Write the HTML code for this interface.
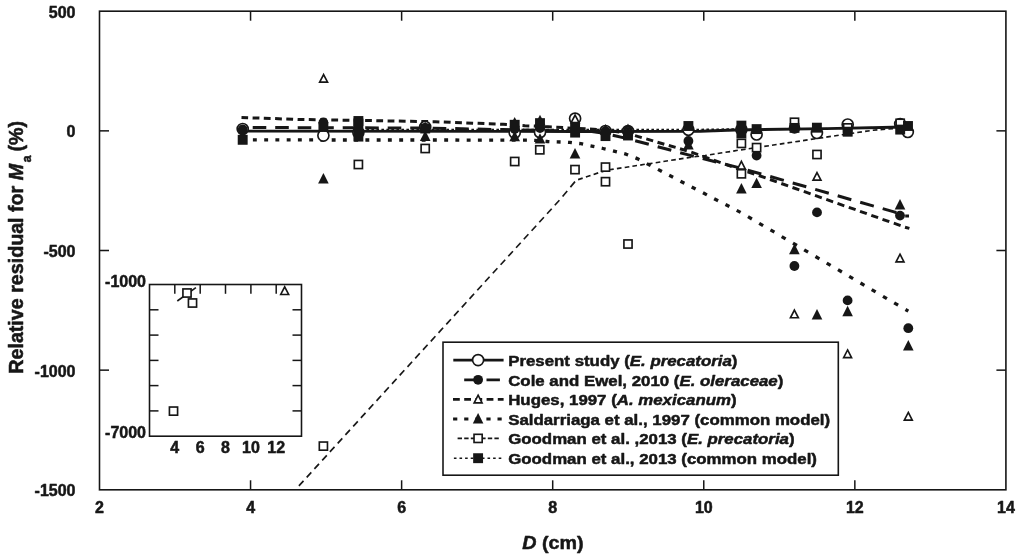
<!DOCTYPE html>
<html><head><meta charset="utf-8"><title>Relative residual plot</title>
<style>
html,body{margin:0;padding:0;background:#fff;}
body{width:1024px;height:558px;overflow:hidden;}
svg{display:block;}
text{font-family:"Liberation Sans",Arial,Helvetica,sans-serif;font-weight:bold;fill:#161616;stroke:#161616;stroke-width:0.5px;stroke-linejoin:round;}
.t16{font-size:16px;}
.t15{font-size:15.2px;}
.t19{font-size:18.6px;}
</style></head><body>
<svg width="1024" height="558" viewBox="0 0 1024 558">
<defs><filter id="soft" x="0" y="0" width="1024" height="558" filterUnits="userSpaceOnUse"><feGaussianBlur stdDeviation="0.5"/></filter></defs>
<rect x="0" y="0" width="1024" height="558" fill="#fff"/>
<g filter="url(#soft)">
<rect x="99.5" y="11.2" width="906.4" height="478.6" fill="none" stroke="#161616" stroke-width="1.6"/>
<line x1="250.56666666666666" y1="489.8" x2="250.56666666666666" y2="480.3" stroke="#161616" stroke-width="1.5"/>
<line x1="250.56666666666666" y1="11.2" x2="250.56666666666666" y2="20.7" stroke="#161616" stroke-width="1.5"/>
<line x1="401.6333333333333" y1="489.8" x2="401.6333333333333" y2="480.3" stroke="#161616" stroke-width="1.5"/>
<line x1="401.6333333333333" y1="11.2" x2="401.6333333333333" y2="20.7" stroke="#161616" stroke-width="1.5"/>
<line x1="552.7" y1="489.8" x2="552.7" y2="480.3" stroke="#161616" stroke-width="1.5"/>
<line x1="552.7" y1="11.2" x2="552.7" y2="20.7" stroke="#161616" stroke-width="1.5"/>
<line x1="703.7666666666667" y1="489.8" x2="703.7666666666667" y2="480.3" stroke="#161616" stroke-width="1.5"/>
<line x1="703.7666666666667" y1="11.2" x2="703.7666666666667" y2="20.7" stroke="#161616" stroke-width="1.5"/>
<line x1="854.8333333333334" y1="489.8" x2="854.8333333333334" y2="480.3" stroke="#161616" stroke-width="1.5"/>
<line x1="854.8333333333334" y1="11.2" x2="854.8333333333334" y2="20.7" stroke="#161616" stroke-width="1.5"/>
<line x1="99.5" y1="130.85" x2="109.0" y2="130.85" stroke="#161616" stroke-width="1.5"/>
<line x1="1005.9" y1="130.85" x2="996.4" y2="130.85" stroke="#161616" stroke-width="1.5"/>
<line x1="99.5" y1="250.50" x2="109.0" y2="250.50" stroke="#161616" stroke-width="1.5"/>
<line x1="1005.9" y1="250.50" x2="996.4" y2="250.50" stroke="#161616" stroke-width="1.5"/>
<line x1="99.5" y1="370.15" x2="109.0" y2="370.15" stroke="#161616" stroke-width="1.5"/>
<line x1="1005.9" y1="370.15" x2="996.4" y2="370.15" stroke="#161616" stroke-width="1.5"/>
<text x="99.5" y="513.4" text-anchor="middle" class="t16">2</text>
<text x="250.6" y="513.4" text-anchor="middle" class="t16">4</text>
<text x="401.6" y="513.4" text-anchor="middle" class="t16">6</text>
<text x="552.7" y="513.4" text-anchor="middle" class="t16">8</text>
<text x="703.8" y="513.4" text-anchor="middle" class="t16">10</text>
<text x="854.8" y="513.4" text-anchor="middle" class="t16">12</text>
<text x="1005.9" y="513.4" text-anchor="middle" class="t16">14</text>
<text x="75.5" y="17.6" text-anchor="end" class="t16">500</text>
<text x="75.5" y="137.2" text-anchor="end" class="t16">0</text>
<text x="75.5" y="256.9" text-anchor="end" class="t16">-500</text>
<text x="75.5" y="376.5" text-anchor="end" class="t16">-1000</text>
<text x="75.5" y="496.2" text-anchor="end" class="t16">-1500</text>
<text transform="translate(553,548.5) scale(1.06,1)" text-anchor="middle" class="t19"><tspan font-style="italic">D</tspan> (cm)</text>
<text transform="translate(22.9,247.3) rotate(-90) scale(1.058,1.13)" text-anchor="middle" class="t19">Relative residual for <tspan font-style="italic">M</tspan><tspan font-size="11.5" dy="7.2" dx="1.6">a</tspan><tspan dy="-7.2" dx="-1.4"> (%)</tspan></text>
<path d="M298.9,485.9 L303.5,480.9 M306.7,477.4 L311.3,472.4 M314.4,468.9 L319.0,463.9 M322.2,460.4 L326.8,455.4 M329.9,451.9 L334.5,446.9 M337.7,443.4 L342.3,438.4 M345.4,434.9 L350.0,429.9 M353.2,426.4 L357.8,421.4 M360.9,417.9 L365.5,412.9 M368.7,409.4 L373.3,404.3 M376.5,400.9 L381.1,395.8 M384.2,392.4 L388.8,387.3 M392.0,383.9 L396.6,378.8 M399.7,375.4 L404.3,370.3 M407.5,366.9 L412.1,361.8 M415.2,358.4 L419.8,353.3 M423.0,349.9 L427.6,344.8 M430.8,341.4 L435.4,336.3 M438.5,332.9 L443.1,327.8 M446.3,324.4 L450.9,319.3 M454.0,315.9 L458.6,310.8 M461.8,307.4 L466.4,302.3 M469.5,298.9 L474.1,293.8 M477.3,290.3 L481.9,285.3 M485.0,281.8 L489.6,276.8 M492.8,273.3 L497.4,268.3 M500.6,264.8 L505.2,259.8 M508.3,256.3 L512.9,251.3 M516.1,247.8 L520.7,242.8 M523.8,239.3 L528.4,234.3 M531.6,230.8 L536.2,225.8 M539.3,222.3 L543.9,217.3 M547.1,213.8 L551.7,208.8 M554.8,205.3 L559.4,200.3 M562.6,196.5 L567.2,190.9 M570.4,187.1 L575.0,181.6 M578.1,179.6 L582.7,178.1 M585.9,177.0 L590.5,175.5 M593.6,174.5 L598.2,172.9 M601.4,171.9 L606.0,170.4 M609.1,169.8 L613.7,169.1 M616.9,168.6 L621.5,167.9 M624.7,167.5 L629.3,166.7 M632.4,166.3 L637.0,165.5 M640.2,165.1 L644.8,164.3 M647.9,163.9 L652.5,163.2 M655.7,162.7 L660.3,162.0 M663.4,161.5 L668.0,160.8 M671.2,160.3 L675.8,159.6 M678.9,159.1 L683.5,158.4 M686.7,157.9 L688.5,157.6 L691.3,157.2 M694.5,156.8 L699.1,156.3 M702.2,155.9 L705.0,155.5 L706.8,155.2 M710.0,154.7 L714.6,154.0 M717.7,153.5 L722.3,152.8 M725.5,152.3 L730.1,151.6 M733.2,151.1 L737.8,150.3 M741.0,149.9 L745.6,149.2 M748.7,148.7 L753.3,148.0 M756.5,147.5 L761.1,146.9 M764.3,146.4 L768.9,145.7 M772.0,145.2 L776.6,144.5 M779.8,144.1 L784.4,143.4 M787.5,142.9 L792.1,142.2 M795.3,141.7 L799.9,141.1 M803.0,140.6 L807.6,139.9 M810.8,139.4 L815.4,138.7 M818.6,138.3 L823.2,137.6 M826.3,137.1 L827.7,136.9 L830.9,136.4 M834.1,136.0 L838.7,135.3 M841.8,134.8 L846.4,134.1 M849.6,133.7 L854.2,133.0 M857.3,132.5 L861.9,131.9 M865.1,131.4 L869.7,130.7 M872.8,130.3 L877.4,129.9 M880.6,129.7 L885.2,129.3 M888.4,129.0 L893.0,128.6 M896.1,128.3 L900.7,127.9 M903.9,127.7 L908.3,127.3" fill="none" stroke="#161616" stroke-width="1.65" stroke-linejoin="round"/>
<path d="M362.0,129.6 L364.0,129.6 M366.4,129.6 L369.0,129.6 M371.4,129.6 L374.0,129.6 M376.4,129.6 L379.0,129.6 M381.4,129.6 L384.0,129.6 M386.4,129.6 L389.0,129.6 M391.4,129.6 L394.0,129.6 M396.4,129.6 L399.0,129.6 M401.4,129.6 L404.0,129.6 M406.4,129.6 L409.0,129.6 M411.4,129.6 L414.0,129.6 M416.4,129.6 L419.0,129.6 M421.4,129.6 L424.0,129.6 M426.4,129.6 L429.0,129.6 M431.4,129.6 L434.0,129.6 M436.4,129.6 L439.0,129.6 M441.4,129.6 L444.0,129.6 M446.4,129.6 L449.0,129.6 M451.4,129.6 L454.0,129.6 M456.4,129.6 L459.0,129.6 M461.4,129.6 L464.0,129.6 M466.4,129.6 L469.0,129.6 M471.4,129.6 L474.0,129.6 M476.4,129.6 L479.0,129.6 M481.4,129.6 L484.0,129.6 M486.4,129.6 L489.0,129.6 M491.4,129.6 L494.0,129.6 M496.4,129.6 L499.0,129.6 M501.4,129.6 L504.0,129.6 M506.4,129.6 L509.0,129.6 M511.4,129.6 L514.0,129.6 M516.4,129.6 L519.0,129.6 M521.4,129.6 L524.0,129.6 M526.4,129.6 L529.0,129.6 M531.4,129.6 L534.0,129.6 M536.4,129.6 L539.0,129.6 M541.4,129.6 L544.0,129.6 M546.4,129.6 L549.0,129.6 M551.4,129.6 L554.0,129.6 M556.4,129.6 L559.0,129.6 M561.4,129.6 L564.0,129.6 M566.4,129.6 L569.0,129.6 M571.4,129.6 L574.0,129.6 M576.4,129.6 L579.0,129.6 M581.4,129.6 L584.0,129.6 M586.4,129.6 L589.0,129.6 M591.4,129.6 L594.0,129.6 M596.4,129.6 L599.0,129.6 M601.4,129.6 L604.0,129.6 M606.4,129.6 L609.0,129.6 M611.4,129.6 L614.0,129.6 M616.4,129.6 L619.0,129.6 M621.4,129.6 L624.0,129.6 M626.4,129.6 L629.0,129.6 M631.4,129.6 L634.0,129.6 M636.4,129.6 L639.0,129.6 M641.4,129.6 L644.0,129.6 M646.4,129.5 L649.0,129.5 M651.4,129.5 L654.0,129.5 M656.4,129.5 L659.0,129.5 M661.4,129.5 L664.0,129.5 M666.4,129.5 L669.0,129.5 M671.4,129.5 L674.0,129.5 M676.4,129.5 L679.0,129.5 M681.4,129.5 L684.0,129.5 M686.4,129.5 L689.0,129.5 M691.4,129.5 L694.0,129.5 M696.4,129.5 L699.0,129.5 M701.4,129.5 L704.0,129.4 M706.4,129.4 L709.0,129.4 M711.4,129.3 L714.0,129.3 M716.4,129.3 L719.0,129.2 M721.4,129.2 L724.0,129.1 M726.4,129.1 L729.0,129.1 M731.4,129.0 L734.0,129.0 M736.4,129.0 L739.0,128.9" fill="none" stroke="#161616" stroke-width="1.6" stroke-linejoin="round"/>
<path d="M241.7,139.9 L245.6,139.9 M252.9,139.9 L256.8,139.9 M264.2,139.9 L268.1,139.9 M275.4,139.9 L279.3,139.9 M286.7,139.9 L290.6,139.9 M297.9,139.9 L301.8,139.9 M309.2,139.9 L313.1,139.9 M320.4,140.0 L324.3,140.0 M331.7,140.0 L335.6,140.0 M342.9,140.0 L346.8,140.0 M354.2,140.0 L358.1,140.0 M365.4,140.0 L369.3,140.0 M376.7,140.0 L380.6,140.0 M387.9,140.0 L391.8,140.0 M399.2,140.0 L403.1,140.0 M410.4,140.0 L414.3,140.0 M421.7,140.0 L425.6,140.0 M432.9,140.0 L436.8,140.0 M444.2,140.0 L448.1,140.0 M455.4,140.0 L459.3,140.1 M466.7,140.1 L470.6,140.1 M477.9,140.1 L481.8,140.1 M489.2,140.1 L493.1,140.1 M500.4,140.1 L504.3,140.1 M511.7,140.1 L515.6,140.1 M523.0,140.1 L526.9,140.1 M534.2,140.4 L538.1,140.7 M545.5,141.3 L547.5,141.5 L549.4,141.6 M556.7,141.9 L560.6,142.0 M568.0,142.3 L569.4,142.4 L571.9,142.7 M579.2,143.5 L580.8,143.7 L583.1,144.2 M590.5,145.8 L594.4,146.6 M601.7,148.2 L603.0,148.5 L605.6,149.1 M613.0,150.9 L614.9,151.4 L616.9,151.9 M624.2,153.7 L626.1,154.2 L628.1,155.0 M635.5,157.9 L637.2,158.6 L639.4,159.7 M646.7,163.6 L650.6,165.6 M658.0,169.4 L661.9,171.5 M669.2,175.3 L673.1,177.3 M680.5,181.2 L684.4,183.2 M691.7,187.0 L695.6,189.0 M703.0,192.8 L706.9,194.9 M714.2,198.7 L718.1,200.7 M725.5,204.5 L729.4,206.5 M736.7,210.4 L740.6,212.4 M748.0,216.7 L751.9,219.0 M759.2,223.3 L763.1,225.6 M770.5,229.9 L774.4,232.2 M781.7,236.6 L785.6,238.9 M793.0,243.2 L796.9,245.5 M804.2,249.8 L808.1,252.1 M815.5,256.5 L819.4,258.8 M826.7,263.1 L830.6,265.4 M838.0,269.7 L841.9,272.0 M849.2,276.4 L853.1,278.7 M860.5,283.0 L864.4,285.3 M871.7,289.6 L875.6,291.9 M883.0,296.3 L886.9,298.6 M894.2,302.9 L898.1,305.2 M905.5,309.5 L908.3,311.2" fill="none" stroke="#161616" stroke-width="3.3" stroke-linejoin="round"/>
<path d="M241.5,117.5 L248.1,117.7 M252.6,117.9 L259.4,118.1 M263.8,118.3 L270.6,118.5 M275.1,118.6 L281.9,118.9 M286.3,119.0 L293.1,119.3 M297.6,119.4 L300.0,119.5 L304.4,119.6 M308.8,119.6 L315.6,119.7 M320.1,119.8 L326.9,119.9 M331.3,120.0 L338.1,120.1 M342.6,120.2 L349.4,120.3 M353.8,120.3 L360.6,120.4 M365.1,120.5 L371.9,120.6 M376.3,120.7 L383.1,120.8 M387.6,120.9 L394.4,121.0 M398.8,121.1 L405.6,121.2 M410.1,121.3 L416.9,121.4 M421.3,121.5 L428.1,121.6 M432.6,121.7 L435.0,121.7 L439.4,121.9 M443.8,122.0 L450.6,122.3 M455.1,122.5 L461.9,122.7 M466.3,122.9 L473.1,123.2 M477.6,123.3 L484.4,123.6 M488.8,123.8 L495.6,124.0 M500.1,124.2 L503.0,124.3 L506.9,124.5 M511.3,124.8 L518.1,125.3 M522.5,125.5 L525.0,125.7 L529.3,125.9 M533.8,126.1 L540.6,126.4 M545.0,126.7 L548.0,126.8 L551.8,127.0 M556.3,127.3 L563.1,127.6 M567.5,127.9 L574.3,128.3 M578.8,128.5 L585.6,128.8 M590.0,129.0 L596.8,129.4 M601.3,129.6 L605.5,129.8 L608.1,130.2 M612.5,131.0 L619.3,132.1 M623.8,132.8 L628.0,133.5 L630.6,134.3 M635.0,135.6 L641.8,137.6 M646.3,138.9 L653.1,140.9 M657.5,142.2 L664.3,144.2 M668.8,145.5 L675.6,147.4 M680.0,148.8 L686.8,150.7 M691.3,152.2 L698.1,154.6 M702.5,156.2 L709.3,158.6 M713.8,160.2 L720.6,162.6 M725.0,164.2 L731.8,166.6 M736.3,168.2 L741.4,170.0 L743.1,170.5 M747.5,171.9 L754.3,174.1 M758.8,175.5 L765.6,177.9 M770.0,179.5 L776.8,181.9 M781.3,183.5 L788.1,185.9 M792.5,187.5 L799.3,189.9 M803.8,191.4 L810.6,193.8 M815.0,195.4 L821.8,197.8 M826.3,199.4 L833.1,201.8 M837.5,203.4 L844.3,205.8 M848.8,207.3 L855.6,209.7 M860.0,211.3 L866.8,213.7 M871.3,215.3 L878.1,217.7 M882.5,219.3 L889.3,221.7 M893.8,223.2 L900.6,225.6 M905.0,227.2 L909.4,228.4" fill="none" stroke="#161616" stroke-width="3.0" stroke-linejoin="round"/>
<path d="M241.5,127.5 L243.8,127.5 M252.7,127.5 L266.3,127.6 M275.2,127.6 L288.8,127.6 M297.7,127.7 L311.3,127.7 M320.2,127.7 L333.8,127.8 M342.7,127.8 L356.3,127.8 M365.2,127.8 L378.8,127.9 M387.7,127.9 L401.3,127.9 M410.2,128.0 L423.8,128.0 M432.7,128.2 L446.3,128.4 M455.2,128.6 L468.8,128.9 M477.7,129.1 L491.3,129.4 M500.2,129.5 L503.0,129.6 L513.8,129.8 M522.7,130.0 L536.3,130.2 M545.2,130.4 L558.8,130.7 M567.7,130.9 L575.0,131.0 L581.3,131.1 M590.2,131.3 L603.8,133.3 M612.7,135.2 L626.3,138.4 M635.2,140.7 L648.8,144.3 M657.7,146.7 L671.3,150.3 M680.2,152.7 L688.4,154.9 L693.8,156.3 M702.7,158.5 L716.3,162.0 M725.2,164.2 L738.8,167.6 M747.7,170.1 L756.7,172.7 L761.3,174.0 M770.2,176.5 L783.8,180.4 M792.7,183.0 L806.3,186.8 M815.2,189.4 L828.8,193.3 M837.7,195.8 L851.3,199.7 M860.2,202.2 L873.8,206.1 M882.7,208.6 L894.9,212.1 L896.3,212.8 M905.2,216.0 L909.0,216.0" fill="none" stroke="#161616" stroke-width="3.0" stroke-linejoin="round"/>
<polyline points="241.5,131.1 575.0,131.5 700.0,131.3 735.0,130.0 826.0,128.6 893.4,127.3 908.3,126.9" fill="none" stroke="#161616" stroke-width="2.9" stroke-linecap="butt" stroke-linejoin="round"/>
<circle cx="242.7" cy="129.0" r="5.52" fill="#fff" stroke="#161616" stroke-width="1.65"/>
<circle cx="323.4" cy="135.6" r="5.52" fill="#fff" stroke="#161616" stroke-width="1.65"/>
<circle cx="358.4" cy="132.5" r="5.52" fill="#fff" stroke="#161616" stroke-width="1.65"/>
<circle cx="425.2" cy="126.9" r="5.52" fill="#fff" stroke="#161616" stroke-width="1.65"/>
<circle cx="514.7" cy="132.7" r="5.52" fill="#fff" stroke="#161616" stroke-width="1.65"/>
<circle cx="540.0" cy="132.2" r="5.52" fill="#fff" stroke="#161616" stroke-width="1.65"/>
<circle cx="575.1" cy="118.6" r="5.52" fill="#fff" stroke="#161616" stroke-width="1.65"/>
<circle cx="605.5" cy="131.0" r="5.52" fill="#fff" stroke="#161616" stroke-width="1.65"/>
<circle cx="628.0" cy="131.0" r="5.52" fill="#fff" stroke="#161616" stroke-width="1.65"/>
<circle cx="688.4" cy="129.8" r="5.52" fill="#fff" stroke="#161616" stroke-width="1.65"/>
<circle cx="741.4" cy="129.5" r="5.52" fill="#fff" stroke="#161616" stroke-width="1.65"/>
<circle cx="756.6" cy="134.5" r="5.52" fill="#fff" stroke="#161616" stroke-width="1.65"/>
<circle cx="816.9" cy="133.0" r="5.52" fill="#fff" stroke="#161616" stroke-width="1.65"/>
<circle cx="847.7" cy="124.5" r="5.52" fill="#fff" stroke="#161616" stroke-width="1.65"/>
<circle cx="900.2" cy="124.0" r="5.52" fill="#fff" stroke="#161616" stroke-width="1.65"/>
<circle cx="907.8" cy="132.0" r="5.52" fill="#fff" stroke="#161616" stroke-width="1.65"/>
<circle cx="242.7" cy="129.5" r="4.90" fill="#161616"/>
<circle cx="323.4" cy="122.5" r="4.90" fill="#161616"/>
<circle cx="358.4" cy="131.5" r="4.90" fill="#161616"/>
<circle cx="425.2" cy="128.0" r="4.90" fill="#161616"/>
<circle cx="514.7" cy="129.0" r="4.90" fill="#161616"/>
<circle cx="540.0" cy="128.0" r="4.90" fill="#161616"/>
<circle cx="575.1" cy="130.0" r="4.90" fill="#161616"/>
<circle cx="605.5" cy="131.2" r="4.90" fill="#161616"/>
<circle cx="628.0" cy="130.5" r="4.90" fill="#161616"/>
<circle cx="688.4" cy="141.0" r="4.90" fill="#161616"/>
<circle cx="741.4" cy="129.5" r="4.90" fill="#161616"/>
<circle cx="756.6" cy="155.5" r="4.90" fill="#161616"/>
<circle cx="794.4" cy="266.0" r="4.90" fill="#161616"/>
<circle cx="817.0" cy="212.4" r="4.90" fill="#161616"/>
<circle cx="847.6" cy="300.4" r="4.90" fill="#161616"/>
<circle cx="900.0" cy="215.6" r="4.90" fill="#161616"/>
<circle cx="908.3" cy="328.2" r="4.90" fill="#161616"/>
<circle cx="794.5" cy="127.9" r="5.80" fill="#161616"/>
<polygon points="323.60,74.52 327.56,82.17 319.64,82.17" fill="#fff" stroke="#161616" stroke-width="1.65" stroke-linejoin="miter"/>
<polygon points="575.10,115.02 579.06,122.67 571.14,122.67" fill="#fff" stroke="#161616" stroke-width="1.65" stroke-linejoin="miter"/>
<polygon points="628.00,125.42 631.96,133.08 624.04,133.08" fill="#fff" stroke="#161616" stroke-width="1.65" stroke-linejoin="miter"/>
<polygon points="741.40,161.42 745.36,169.08 737.44,169.08" fill="#fff" stroke="#161616" stroke-width="1.65" stroke-linejoin="miter"/>
<polygon points="817.00,172.52 820.96,180.18 813.04,180.18" fill="#fff" stroke="#161616" stroke-width="1.65" stroke-linejoin="miter"/>
<polygon points="794.40,310.12 798.36,317.77 790.44,317.77" fill="#fff" stroke="#161616" stroke-width="1.65" stroke-linejoin="miter"/>
<polygon points="847.60,349.92 851.56,357.57 843.64,357.57" fill="#fff" stroke="#161616" stroke-width="1.65" stroke-linejoin="miter"/>
<polygon points="900.00,254.22 903.96,261.88 896.04,261.88" fill="#fff" stroke="#161616" stroke-width="1.65" stroke-linejoin="miter"/>
<polygon points="908.30,412.42 912.26,420.07 904.34,420.07" fill="#fff" stroke="#161616" stroke-width="1.65" stroke-linejoin="miter"/>
<polygon points="323.40,173.00 328.70,183.40 318.10,183.40" fill="#161616"/>
<polygon points="425.20,121.50 430.50,131.90 419.90,131.90" fill="#161616"/>
<polygon points="425.20,130.50 430.50,140.90 419.90,140.90" fill="#161616"/>
<polygon points="514.70,116.90 520.00,127.30 509.40,127.30" fill="#161616"/>
<polygon points="514.70,130.80 520.00,141.20 509.40,141.20" fill="#161616"/>
<polygon points="540.00,114.70 545.30,125.10 534.70,125.10" fill="#161616"/>
<polygon points="540.00,133.20 545.30,143.60 534.70,143.60" fill="#161616"/>
<polygon points="575.00,148.10 580.30,158.50 569.70,158.50" fill="#161616"/>
<polygon points="605.50,124.10 610.80,134.50 600.20,134.50" fill="#161616"/>
<polygon points="628.00,125.80 633.30,136.20 622.70,136.20" fill="#161616"/>
<polygon points="688.40,139.00 693.70,149.40 683.10,149.40" fill="#161616"/>
<polygon points="741.40,183.10 746.70,193.50 736.10,193.50" fill="#161616"/>
<polygon points="756.60,177.70 761.90,188.10 751.30,188.10" fill="#161616"/>
<polygon points="794.40,243.80 799.70,254.20 789.10,254.20" fill="#161616"/>
<polygon points="817.00,309.00 822.30,319.40 811.70,319.40" fill="#161616"/>
<polygon points="847.60,305.80 852.90,316.20 842.30,316.20" fill="#161616"/>
<polygon points="900.00,199.10 905.30,209.50 894.70,209.50" fill="#161616"/>
<polygon points="908.30,340.00 913.60,350.40 903.00,350.40" fill="#161616"/>
<rect x="354.32" y="160.43" width="8.15" height="8.15" fill="#fff" stroke="#161616" stroke-width="1.65"/>
<rect x="421.12" y="144.43" width="8.15" height="8.15" fill="#fff" stroke="#161616" stroke-width="1.65"/>
<rect x="510.63" y="157.43" width="8.15" height="8.15" fill="#fff" stroke="#161616" stroke-width="1.65"/>
<rect x="535.72" y="145.73" width="8.15" height="8.15" fill="#fff" stroke="#161616" stroke-width="1.65"/>
<rect x="570.92" y="165.53" width="8.15" height="8.15" fill="#fff" stroke="#161616" stroke-width="1.65"/>
<rect x="601.42" y="163.03" width="8.15" height="8.15" fill="#fff" stroke="#161616" stroke-width="1.65"/>
<rect x="601.42" y="177.62" width="8.15" height="8.15" fill="#fff" stroke="#161616" stroke-width="1.65"/>
<rect x="623.92" y="239.93" width="8.15" height="8.15" fill="#fff" stroke="#161616" stroke-width="1.65"/>
<rect x="737.32" y="139.33" width="8.15" height="8.15" fill="#fff" stroke="#161616" stroke-width="1.65"/>
<rect x="737.32" y="169.73" width="8.15" height="8.15" fill="#fff" stroke="#161616" stroke-width="1.65"/>
<rect x="752.52" y="143.53" width="8.15" height="8.15" fill="#fff" stroke="#161616" stroke-width="1.65"/>
<rect x="790.42" y="118.22" width="8.15" height="8.15" fill="#fff" stroke="#161616" stroke-width="1.65"/>
<rect x="812.92" y="150.43" width="8.15" height="8.15" fill="#fff" stroke="#161616" stroke-width="1.65"/>
<rect x="843.62" y="123.83" width="8.15" height="8.15" fill="#fff" stroke="#161616" stroke-width="1.65"/>
<rect x="896.12" y="119.22" width="8.15" height="8.15" fill="#fff" stroke="#161616" stroke-width="1.65"/>
<rect x="319.32" y="442.03" width="8.15" height="8.15" fill="#fff" stroke="#161616" stroke-width="1.65"/>
<rect x="237.75" y="134.85" width="9.90" height="9.90" fill="#161616"/>
<rect x="318.45" y="122.05" width="9.90" height="9.90" fill="#161616"/>
<rect x="353.45" y="116.05" width="9.90" height="9.90" fill="#161616"/>
<rect x="353.45" y="118.55" width="9.90" height="9.90" fill="#161616"/>
<rect x="353.45" y="131.65" width="9.90" height="9.90" fill="#161616"/>
<rect x="420.25" y="123.55" width="9.90" height="9.90" fill="#161616"/>
<rect x="509.75" y="119.85" width="9.90" height="9.90" fill="#161616"/>
<rect x="535.05" y="118.15" width="9.90" height="9.90" fill="#161616"/>
<rect x="570.15" y="122.55" width="9.90" height="9.90" fill="#161616"/>
<rect x="570.15" y="127.65" width="9.90" height="9.90" fill="#161616"/>
<rect x="600.55" y="131.15" width="9.90" height="9.90" fill="#161616"/>
<rect x="623.05" y="130.55" width="9.90" height="9.90" fill="#161616"/>
<rect x="683.45" y="121.05" width="9.90" height="9.90" fill="#161616"/>
<rect x="736.45" y="120.65" width="9.90" height="9.90" fill="#161616"/>
<rect x="736.45" y="128.45" width="9.90" height="9.90" fill="#161616"/>
<rect x="751.65" y="124.15" width="9.90" height="9.90" fill="#161616"/>
<rect x="789.55" y="122.95" width="9.90" height="9.90" fill="#161616"/>
<rect x="811.95" y="122.75" width="9.90" height="9.90" fill="#161616"/>
<rect x="842.75" y="126.75" width="9.90" height="9.90" fill="#161616"/>
<rect x="895.25" y="124.65" width="9.90" height="9.90" fill="#161616"/>
<rect x="903.05" y="121.05" width="9.90" height="9.90" fill="#161616"/>
<rect x="149.5" y="284.5" width="152.0" height="151.7" fill="#fff" stroke="#161616" stroke-width="1.6"/>
<line x1="174.8" y1="284.5" x2="174.8" y2="293.8" stroke="#161616" stroke-width="1.5"/>
<text x="174.8" y="453" text-anchor="middle" class="t16">4</text>
<line x1="200.2" y1="284.5" x2="200.2" y2="293.8" stroke="#161616" stroke-width="1.5"/>
<text x="200.2" y="453" text-anchor="middle" class="t16">6</text>
<line x1="225.5" y1="284.5" x2="225.5" y2="293.8" stroke="#161616" stroke-width="1.5"/>
<text x="225.5" y="453" text-anchor="middle" class="t16">8</text>
<line x1="250.9" y1="284.5" x2="250.9" y2="293.8" stroke="#161616" stroke-width="1.5"/>
<text x="250.9" y="453" text-anchor="middle" class="t16">10</text>
<line x1="276.2" y1="284.5" x2="276.2" y2="293.8" stroke="#161616" stroke-width="1.5"/>
<text x="276.2" y="453" text-anchor="middle" class="t16">12</text>
<line x1="149.5" y1="309.8" x2="158.5" y2="309.8" stroke="#161616" stroke-width="1.5"/>
<line x1="301.5" y1="309.8" x2="292.5" y2="309.8" stroke="#161616" stroke-width="1.5"/>
<line x1="149.5" y1="335.1" x2="158.5" y2="335.1" stroke="#161616" stroke-width="1.5"/>
<line x1="301.5" y1="335.1" x2="292.5" y2="335.1" stroke="#161616" stroke-width="1.5"/>
<line x1="149.5" y1="360.4" x2="158.5" y2="360.4" stroke="#161616" stroke-width="1.5"/>
<line x1="301.5" y1="360.4" x2="292.5" y2="360.4" stroke="#161616" stroke-width="1.5"/>
<line x1="149.5" y1="385.6" x2="158.5" y2="385.6" stroke="#161616" stroke-width="1.5"/>
<line x1="301.5" y1="385.6" x2="292.5" y2="385.6" stroke="#161616" stroke-width="1.5"/>
<line x1="149.5" y1="410.9" x2="158.5" y2="410.9" stroke="#161616" stroke-width="1.5"/>
<line x1="301.5" y1="410.9" x2="292.5" y2="410.9" stroke="#161616" stroke-width="1.5"/>
<text x="146" y="287.2" text-anchor="end" class="t16">-1000</text>
<text x="146" y="437.8" text-anchor="end" class="t16">-7000</text>
<polyline points="177.3,301.0 195.9,287.7" fill="none" stroke="#161616" stroke-width="1.6" stroke-linecap="butt" stroke-linejoin="round"/>
<rect x="182.93" y="288.93" width="8.15" height="8.15" fill="#fff" stroke="#161616" stroke-width="1.65"/>
<rect x="188.43" y="298.93" width="8.15" height="8.15" fill="#fff" stroke="#161616" stroke-width="1.65"/>
<rect x="169.43" y="407.03" width="8.15" height="8.15" fill="#fff" stroke="#161616" stroke-width="1.65"/>
<polygon points="284.70,286.82 288.66,294.47 280.74,294.47" fill="#fff" stroke="#161616" stroke-width="1.65" stroke-linejoin="miter"/>
<rect x="443" y="342.2" width="395.29999999999995" height="133.0" fill="#fff" stroke="#161616" stroke-width="1.6"/>
<text transform="translate(508.2,365.8) scale(1.109,1)" class="t15">Present study (<tspan font-style="italic">E. precatoria</tspan>)</text>
<text transform="translate(508.2,385.5) scale(1.109,1)" class="t15">Cole and Ewel, 2010 (<tspan font-style="italic">E. oleraceae</tspan>)</text>
<text transform="translate(508.2,405.1) scale(1.109,1)" class="t15">Huges, 1997 (<tspan font-style="italic">A. mexicanum</tspan>)</text>
<text transform="translate(508.2,424.7) scale(1.109,1)" class="t15">Saldarriaga et al., 1997 (common model)</text>
<text transform="translate(508.2,444.1) scale(1.109,1)" class="t15">Goodman et al. ,2013 (<tspan font-style="italic">E. precatoria</tspan>)</text>
<text transform="translate(508.2,463.9) scale(1.109,1)" class="t15">Goodman et al., 2013 (common model)</text>
<polyline points="453.3,360.1 503.6,360.1" fill="none" stroke="#161616" stroke-width="2.7" stroke-linecap="butt" stroke-linejoin="round"/>
<circle cx="478.1" cy="360.1" r="5.52" fill="#fff" stroke="#161616" stroke-width="1.65"/>
<polyline points="464.2,379.8 500.4,379.8" fill="none" stroke="#161616" stroke-width="2.8" stroke-dasharray="13.4 8.9" stroke-linecap="butt" stroke-linejoin="round"/>
<circle cx="478.1" cy="379.8" r="4.90" fill="#161616"/>
<polyline points="453.0,399.4 503.6,399.4" fill="none" stroke="#161616" stroke-width="2.8" stroke-dasharray="6.8 4.4" stroke-linecap="butt" stroke-linejoin="round"/>
<polygon points="478.10,395.22 482.06,402.87 474.14,402.87" fill="#fff" stroke="#161616" stroke-width="1.65" stroke-linejoin="miter"/>
<polyline points="453.1,419.0 503.0,419.0" fill="none" stroke="#161616" stroke-width="3.1" stroke-dasharray="4.2 6.9" stroke-linecap="butt" stroke-linejoin="round"/>
<polygon points="478.10,413.10 483.40,423.50 472.80,423.50" fill="#161616"/>
<polyline points="457.6,438.4 476.0,438.4" fill="none" stroke="#161616" stroke-width="1.65" stroke-dasharray="4.4 2.2" stroke-linecap="butt" stroke-linejoin="round"/>
<polyline points="481.2,438.4 499.0,438.4" fill="none" stroke="#161616" stroke-width="1.65" stroke-dasharray="4.4 2.2" stroke-linecap="butt" stroke-linejoin="round"/>
<rect x="474.03" y="434.32" width="8.15" height="8.15" fill="#fff" stroke="#161616" stroke-width="1.65"/>
<polyline points="453.9,458.2 502.2,458.2" fill="none" stroke="#161616" stroke-width="1.65" stroke-dasharray="2.6 3.0" stroke-linecap="butt" stroke-linejoin="round"/>
<rect x="473.15" y="453.25" width="9.90" height="9.90" fill="#161616"/>
</g>
</svg>
</body></html>
